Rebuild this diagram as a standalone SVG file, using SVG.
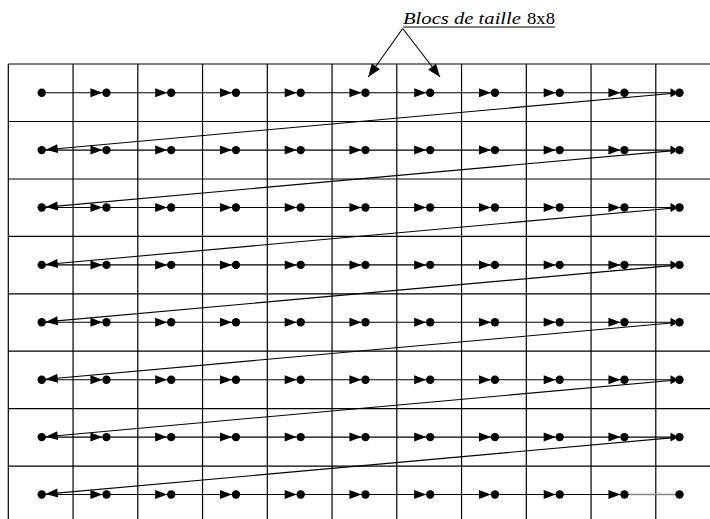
<svg xmlns="http://www.w3.org/2000/svg" width="710" height="519" viewBox="0 0 710 519">
<style>
.grid{stroke:#000;stroke-width:1.2;fill:none}
.c{stroke:#000;stroke-width:1.1;fill:none}
.ca{stroke:#000;stroke-width:1.1;fill:none;marker-end:url(#ah)}
.cs{stroke:#000;stroke-width:1.1;fill:none;marker-end:url(#as)}
.cg{stroke:#888;stroke-width:1.6;fill:none}
.dot{fill:#000}
.lbl{font-family:"Liberation Serif","DejaVu Serif",serif;font-size:17.5px;fill:#000}
</style>
<defs>
<marker id="ah" markerUnits="userSpaceOnUse" markerWidth="13" markerHeight="10" refX="12" refY="4.5" orient="auto" overflow="visible"><path d="M0,0 L12,4.5 L0,9 z" fill="#000"/></marker>
<marker id="as" markerUnits="userSpaceOnUse" markerWidth="6" markerHeight="10" refX="5" refY="4.5" orient="auto" overflow="visible"><path d="M0,0 L5,2.8 L5,6.2 L0,9 z" fill="#000"/></marker>
<marker id="al" markerUnits="userSpaceOnUse" markerWidth="14" markerHeight="11" refX="13" refY="5" orient="auto" overflow="visible"><path d="M0,0 L13,5 L0,10 z" fill="#000"/></marker>
</defs>
<rect width="710" height="519" fill="#fff"/>
<g id="grid" class="grid">
<path d="M8.3,64H710M8.3,121.5H710M8.3,179H710M8.3,236.3H710M8.3,293.8H710M8.3,351.2H710M8.3,408.7H710M8.3,466.1H710"/>
<path d="M8.3,64V519M73.05,64V519M137.8,64V519M202.55,64V519M267.3,64V519M332.05,64V519M396.8,64V519M461.55,64V519M526.3,64V519M591.05,64V519M655.8,64V519"/>
</g>
<g id="label">
<text class="lbl" y="23.5"><tspan x="403" font-style="italic" textLength="118" lengthAdjust="spacingAndGlyphs">Blocs de taille</tspan><tspan x="527" textLength="28" lengthAdjust="spacingAndGlyphs">8x8</tspan></text>
<line x1="403" y1="27" x2="555" y2="27" stroke="#000" stroke-width="1"/>
</g>
<g id="connectors">
<line class="c" x1="402.7" y1="28.5" x2="368.3" y2="77" style="marker-end:url(#al)"/>
<line class="c" x1="402.7" y1="28.5" x2="440" y2="77" style="marker-end:url(#al)"/>
<path class="ca" d="M41.7,92.7H102.45"/><path class="ca" d="M106.45,92.7H167.2"/><path class="ca" d="M171.2,92.7H231.95"/><path class="ca" d="M235.95,92.7H296.7"/><path class="ca" d="M300.7,92.7H361.45"/><path class="ca" d="M365.45,92.7H426.2"/><path class="ca" d="M430.2,92.7H490.95"/><path class="ca" d="M494.95,92.7H555.7"/><path class="ca" d="M559.7,92.7H620.45"/><path class="cs" d="M624.45,92.7H675.5"/>
<path class="ca" d="M41.7,150.1H102.45"/><path class="ca" d="M106.45,150.1H167.2"/><path class="ca" d="M171.2,150.1H231.95"/><path class="ca" d="M235.95,150.1H296.7"/><path class="ca" d="M300.7,150.1H361.45"/><path class="ca" d="M365.45,150.1H426.2"/><path class="ca" d="M430.2,150.1H490.95"/><path class="ca" d="M494.95,150.1H555.7"/><path class="ca" d="M559.7,150.1H620.45"/><path class="cs" d="M624.45,150.1H675.5"/>
<path class="ca" d="M41.7,207.5H102.45"/><path class="ca" d="M106.45,207.5H167.2"/><path class="ca" d="M171.2,207.5H231.95"/><path class="ca" d="M235.95,207.5H296.7"/><path class="ca" d="M300.7,207.5H361.45"/><path class="ca" d="M365.45,207.5H426.2"/><path class="ca" d="M430.2,207.5H490.95"/><path class="ca" d="M494.95,207.5H555.7"/><path class="ca" d="M559.7,207.5H620.45"/><path class="cs" d="M624.45,207.5H675.5"/>
<path class="ca" d="M41.7,264.9H102.45"/><path class="ca" d="M106.45,264.9H167.2"/><path class="ca" d="M171.2,264.9H231.95"/><path class="ca" d="M235.95,264.9H296.7"/><path class="ca" d="M300.7,264.9H361.45"/><path class="ca" d="M365.45,264.9H426.2"/><path class="ca" d="M430.2,264.9H490.95"/><path class="ca" d="M494.95,264.9H555.7"/><path class="ca" d="M559.7,264.9H620.45"/><path class="cs" d="M624.45,264.9H675.5"/>
<path class="ca" d="M41.7,322.3H102.45"/><path class="ca" d="M106.45,322.3H167.2"/><path class="ca" d="M171.2,322.3H231.95"/><path class="ca" d="M235.95,322.3H296.7"/><path class="ca" d="M300.7,322.3H361.45"/><path class="ca" d="M365.45,322.3H426.2"/><path class="ca" d="M430.2,322.3H490.95"/><path class="ca" d="M494.95,322.3H555.7"/><path class="ca" d="M559.7,322.3H620.45"/><path class="cs" d="M624.45,322.3H675.5"/>
<path class="ca" d="M41.7,379.7H102.45"/><path class="ca" d="M106.45,379.7H167.2"/><path class="ca" d="M171.2,379.7H231.95"/><path class="ca" d="M235.95,379.7H296.7"/><path class="ca" d="M300.7,379.7H361.45"/><path class="ca" d="M365.45,379.7H426.2"/><path class="ca" d="M430.2,379.7H490.95"/><path class="ca" d="M494.95,379.7H555.7"/><path class="ca" d="M559.7,379.7H620.45"/><path class="cs" d="M624.45,379.7H675.5"/>
<path class="ca" d="M41.7,437.1H102.45"/><path class="ca" d="M106.45,437.1H167.2"/><path class="ca" d="M171.2,437.1H231.95"/><path class="ca" d="M235.95,437.1H296.7"/><path class="ca" d="M300.7,437.1H361.45"/><path class="ca" d="M365.45,437.1H426.2"/><path class="ca" d="M430.2,437.1H490.95"/><path class="ca" d="M494.95,437.1H555.7"/><path class="ca" d="M559.7,437.1H620.45"/><path class="cs" d="M624.45,437.1H675.5"/>
<path class="ca" d="M41.7,494.5H102.45"/><path class="ca" d="M106.45,494.5H167.2"/><path class="ca" d="M171.2,494.5H231.95"/><path class="ca" d="M235.95,494.5H296.7"/><path class="ca" d="M300.7,494.5H361.45"/><path class="ca" d="M365.45,494.5H426.2"/><path class="ca" d="M430.2,494.5H490.95"/><path class="ca" d="M494.95,494.5H555.7"/><path class="ca" d="M559.7,494.5H620.45"/><path class="cg" d="M624.45,494.5H679.5"/>
<path class="ca" d="M679.5,92.7L45.7,149.7"/>
<path class="ca" d="M679.5,150.1L45.7,207.1"/>
<path class="ca" d="M679.5,207.5L45.7,264.5"/>
<path class="ca" d="M679.5,264.9L45.7,321.9"/>
<path class="ca" d="M679.5,322.3L45.7,379.3"/>
<path class="ca" d="M679.5,379.7L45.7,436.7"/>
<path class="ca" d="M679.5,437.1L45.7,494.1"/>
</g>
<g id="nodes" class="dot">
<g id="r1c1"><circle cx="41.7" cy="92.7" r="4.2"/></g><g id="r1c2"><circle cx="106.45" cy="92.7" r="4.2"/></g><g id="r1c3"><circle cx="171.2" cy="92.7" r="4.2"/></g><g id="r1c4"><circle cx="235.95" cy="92.7" r="4.2"/></g><g id="r1c5"><circle cx="300.7" cy="92.7" r="4.2"/></g><g id="r1c6"><circle cx="365.45" cy="92.7" r="4.2"/></g><g id="r1c7"><circle cx="430.2" cy="92.7" r="4.2"/></g><g id="r1c8"><circle cx="494.95" cy="92.7" r="4.2"/></g><g id="r1c9"><circle cx="559.7" cy="92.7" r="4.2"/></g><g id="r1c10"><circle cx="624.45" cy="92.7" r="4.2"/></g><g id="r1c11"><circle cx="679.5" cy="92.7" r="4.2"/></g>
<g id="r2c1"><circle cx="41.7" cy="150.1" r="4.2"/></g><g id="r2c2"><circle cx="106.45" cy="150.1" r="4.2"/></g><g id="r2c3"><circle cx="171.2" cy="150.1" r="4.2"/></g><g id="r2c4"><circle cx="235.95" cy="150.1" r="4.2"/></g><g id="r2c5"><circle cx="300.7" cy="150.1" r="4.2"/></g><g id="r2c6"><circle cx="365.45" cy="150.1" r="4.2"/></g><g id="r2c7"><circle cx="430.2" cy="150.1" r="4.2"/></g><g id="r2c8"><circle cx="494.95" cy="150.1" r="4.2"/></g><g id="r2c9"><circle cx="559.7" cy="150.1" r="4.2"/></g><g id="r2c10"><circle cx="624.45" cy="150.1" r="4.2"/></g><g id="r2c11"><circle cx="679.5" cy="150.1" r="4.2"/></g>
<g id="r3c1"><circle cx="41.7" cy="207.5" r="4.2"/></g><g id="r3c2"><circle cx="106.45" cy="207.5" r="4.2"/></g><g id="r3c3"><circle cx="171.2" cy="207.5" r="4.2"/></g><g id="r3c4"><circle cx="235.95" cy="207.5" r="4.2"/></g><g id="r3c5"><circle cx="300.7" cy="207.5" r="4.2"/></g><g id="r3c6"><circle cx="365.45" cy="207.5" r="4.2"/></g><g id="r3c7"><circle cx="430.2" cy="207.5" r="4.2"/></g><g id="r3c8"><circle cx="494.95" cy="207.5" r="4.2"/></g><g id="r3c9"><circle cx="559.7" cy="207.5" r="4.2"/></g><g id="r3c10"><circle cx="624.45" cy="207.5" r="4.2"/></g><g id="r3c11"><circle cx="679.5" cy="207.5" r="4.2"/></g>
<g id="r4c1"><circle cx="41.7" cy="264.9" r="4.2"/></g><g id="r4c2"><circle cx="106.45" cy="264.9" r="4.2"/></g><g id="r4c3"><circle cx="171.2" cy="264.9" r="4.2"/></g><g id="r4c4"><circle cx="235.95" cy="264.9" r="4.2"/></g><g id="r4c5"><circle cx="300.7" cy="264.9" r="4.2"/></g><g id="r4c6"><circle cx="365.45" cy="264.9" r="4.2"/></g><g id="r4c7"><circle cx="430.2" cy="264.9" r="4.2"/></g><g id="r4c8"><circle cx="494.95" cy="264.9" r="4.2"/></g><g id="r4c9"><circle cx="559.7" cy="264.9" r="4.2"/></g><g id="r4c10"><circle cx="624.45" cy="264.9" r="4.2"/></g><g id="r4c11"><circle cx="679.5" cy="264.9" r="4.2"/></g>
<g id="r5c1"><circle cx="41.7" cy="322.3" r="4.2"/></g><g id="r5c2"><circle cx="106.45" cy="322.3" r="4.2"/></g><g id="r5c3"><circle cx="171.2" cy="322.3" r="4.2"/></g><g id="r5c4"><circle cx="235.95" cy="322.3" r="4.2"/></g><g id="r5c5"><circle cx="300.7" cy="322.3" r="4.2"/></g><g id="r5c6"><circle cx="365.45" cy="322.3" r="4.2"/></g><g id="r5c7"><circle cx="430.2" cy="322.3" r="4.2"/></g><g id="r5c8"><circle cx="494.95" cy="322.3" r="4.2"/></g><g id="r5c9"><circle cx="559.7" cy="322.3" r="4.2"/></g><g id="r5c10"><circle cx="624.45" cy="322.3" r="4.2"/></g><g id="r5c11"><circle cx="679.5" cy="322.3" r="4.2"/></g>
<g id="r6c1"><circle cx="41.7" cy="379.7" r="4.2"/></g><g id="r6c2"><circle cx="106.45" cy="379.7" r="4.2"/></g><g id="r6c3"><circle cx="171.2" cy="379.7" r="4.2"/></g><g id="r6c4"><circle cx="235.95" cy="379.7" r="4.2"/></g><g id="r6c5"><circle cx="300.7" cy="379.7" r="4.2"/></g><g id="r6c6"><circle cx="365.45" cy="379.7" r="4.2"/></g><g id="r6c7"><circle cx="430.2" cy="379.7" r="4.2"/></g><g id="r6c8"><circle cx="494.95" cy="379.7" r="4.2"/></g><g id="r6c9"><circle cx="559.7" cy="379.7" r="4.2"/></g><g id="r6c10"><circle cx="624.45" cy="379.7" r="4.2"/></g><g id="r6c11"><circle cx="679.5" cy="379.7" r="4.2"/></g>
<g id="r7c1"><circle cx="41.7" cy="437.1" r="4.2"/></g><g id="r7c2"><circle cx="106.45" cy="437.1" r="4.2"/></g><g id="r7c3"><circle cx="171.2" cy="437.1" r="4.2"/></g><g id="r7c4"><circle cx="235.95" cy="437.1" r="4.2"/></g><g id="r7c5"><circle cx="300.7" cy="437.1" r="4.2"/></g><g id="r7c6"><circle cx="365.45" cy="437.1" r="4.2"/></g><g id="r7c7"><circle cx="430.2" cy="437.1" r="4.2"/></g><g id="r7c8"><circle cx="494.95" cy="437.1" r="4.2"/></g><g id="r7c9"><circle cx="559.7" cy="437.1" r="4.2"/></g><g id="r7c10"><circle cx="624.45" cy="437.1" r="4.2"/></g><g id="r7c11"><circle cx="679.5" cy="437.1" r="4.2"/></g>
<g id="r8c1"><circle cx="41.7" cy="494.5" r="4.2"/></g><g id="r8c2"><circle cx="106.45" cy="494.5" r="4.2"/></g><g id="r8c3"><circle cx="171.2" cy="494.5" r="4.2"/></g><g id="r8c4"><circle cx="235.95" cy="494.5" r="4.2"/></g><g id="r8c5"><circle cx="300.7" cy="494.5" r="4.2"/></g><g id="r8c6"><circle cx="365.45" cy="494.5" r="4.2"/></g><g id="r8c7"><circle cx="430.2" cy="494.5" r="4.2"/></g><g id="r8c8"><circle cx="494.95" cy="494.5" r="4.2"/></g><g id="r8c9"><circle cx="559.7" cy="494.5" r="4.2"/></g><g id="r8c10"><circle cx="624.45" cy="494.5" r="4.2"/></g><g id="r8c11"><circle cx="679.5" cy="494.5" r="4.2"/></g>
</g>
</svg>
